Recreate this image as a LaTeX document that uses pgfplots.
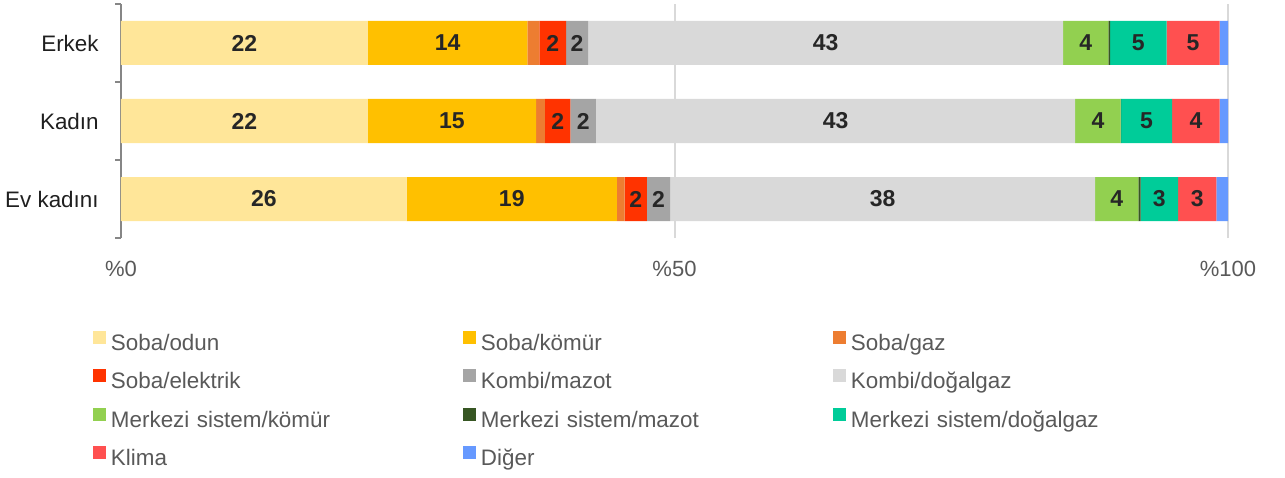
\documentclass[border=0pt]{standalone}
\usepackage{fontspec}
\setmainfont{Liberation Sans}
\usepackage{pgfplots}
\pgfplotsset{compat=1.18}
\definecolor{cOdun}{HTML}{FFE699}
\definecolor{cKomur}{HTML}{FFC000}
\definecolor{cGaz}{HTML}{ED7D31}
\definecolor{cElek}{HTML}{FF3300}
\definecolor{cKMaz}{HTML}{A5A5A5}
\definecolor{cKDog}{HTML}{D9D9D9}
\definecolor{cMKom}{HTML}{92D050}
\definecolor{cMMaz}{HTML}{375623}
\definecolor{cMDog}{HTML}{00CC99}
\definecolor{cKlima}{HTML}{FF5050}
\definecolor{cDiger}{HTML}{6699FF}
\definecolor{txtgray}{HTML}{595959}
\definecolor{lblcol}{HTML}{262626}
\definecolor{axgray}{HTML}{868686}
\definecolor{gridgray}{HTML}{D9D9D9}
\pgfplotsset{
  lbl/.style={nodes near coords, point meta=explicit symbolic}
}
\begin{document}
\begin{tikzpicture}[x=1pt,y=1pt]
\useasboundingbox (0,0) rectangle (642.5,238.5);
\begin{axis}[
  at={(60.5pt,119.5pt)}, anchor=south west,
  scale only axis, width=553.5pt, height=117pt,
  xbar stacked, bar width=22pt,
  xmin=0, xmax=100, ymin=-0.5, ymax=2.5,
  axis y line*=left, axis x line*=bottom,
  x axis line style={draw=none},
  y axis line style={draw=axgray, line width=0.8pt},
  xtick={0,50,100}, xticklabels={\%0,\%50,\%100},
  ytick={0,1,2}, yticklabels={Ev kadını,Kadın,Erkek},
  minor ytick={-0.5,0.5,1.5,2.5},
  major tick length=0pt, minor tick length=3pt,
  tick align=outside,
  minor y tick style={draw=axgray, line width=0.8pt},
  major tick style={draw=none},
  xmajorgrids, grid style={draw=gridgray, line width=1pt},
  xticklabel style={font=\fontsize{11}{13}\selectfont, text=txtgray, inner sep=0pt, anchor=center, yshift=-15.5pt},
  yticklabel style={font=\fontsize{11.2}{13}\selectfont, text=black!88, inner sep=0pt, anchor=east, xshift=-11pt},
  every node near coord/.append style={anchor=center, font=\fontsize{11.5}{13}\selectfont\bfseries, text=lblcol},
  legend columns=3,
  legend cell align=left,
  legend image code/.code={\fill[#1] (0pt,0.5pt) rectangle (6.5pt,7pt);},
  legend style={at={(rel axis cs:-0.0253,-0.396)}, anchor=north west, draw=none, inner sep=0pt, outer sep=0pt,
    font=\fontsize{11.2}{13}\selectfont, text=txtgray, row sep=7pt,
    nodes={inner xsep=2.5pt, inner ysep=0pt, text width=160pt, text height=8pt, text depth=2.5pt},
    /tikz/every even column/.append style={column sep=13.5pt}},
]
\addplot[fill=cOdun, draw=none, lbl] coordinates {(22.3,2) [22] (22.3,1) [22] (25.8,0) [26]};
\addplot[fill=cKomur, draw=none, lbl] coordinates {(14.4,2) [14] (15.2,1) [15] (19.0,0) [19]};
\addplot[fill=cGaz, draw=none] coordinates {(1.1,2) (0.8,1) (0.7,0)};
\addplot[fill=cElek, draw=none, lbl] coordinates {(2.4,2) [2] (2.3,1) [2] (2.0,0) [2]};
\addplot[fill=cKMaz, draw=none, lbl] coordinates {(2.0,2) [2] (2.3,1) [2] (2.1,0) [2]};
\addplot[fill=cKDog, draw=none, lbl] coordinates {(42.9,2) [43] (43.3,1) [43] (38.4,0) [38]};
\addplot[fill=cMKom, draw=none, lbl] coordinates {(4.1,2) [4] (4.1,1) [4] (3.9,0) [4]};
\addplot[fill=cMMaz, draw=none] coordinates {(0.15,2) (0.05,1) (0.2,0)};
\addplot[fill=cMDog, draw=none, lbl] coordinates {(5.1,2) [5] (4.6,1) [5] (3.4,0) [3]};
\addplot[fill=cKlima, draw=none, lbl] coordinates {(4.8,2) [5] (4.3,1) [4] (3.45,0) [3]};
\addplot[fill=cDiger, draw=none] coordinates {(0.75,2) (0.75,1) (1.05,0)};
\legend{Soba/odun,Soba/kömür,Soba/gaz,Soba/elektrik,Kombi/mazot,Kombi/doğalgaz,Merkezi sistem/kömür,Merkezi sistem/mazot,Merkezi sistem/doğalgaz,Klima,Diğer}
\end{axis}
\end{tikzpicture}
\end{document}
